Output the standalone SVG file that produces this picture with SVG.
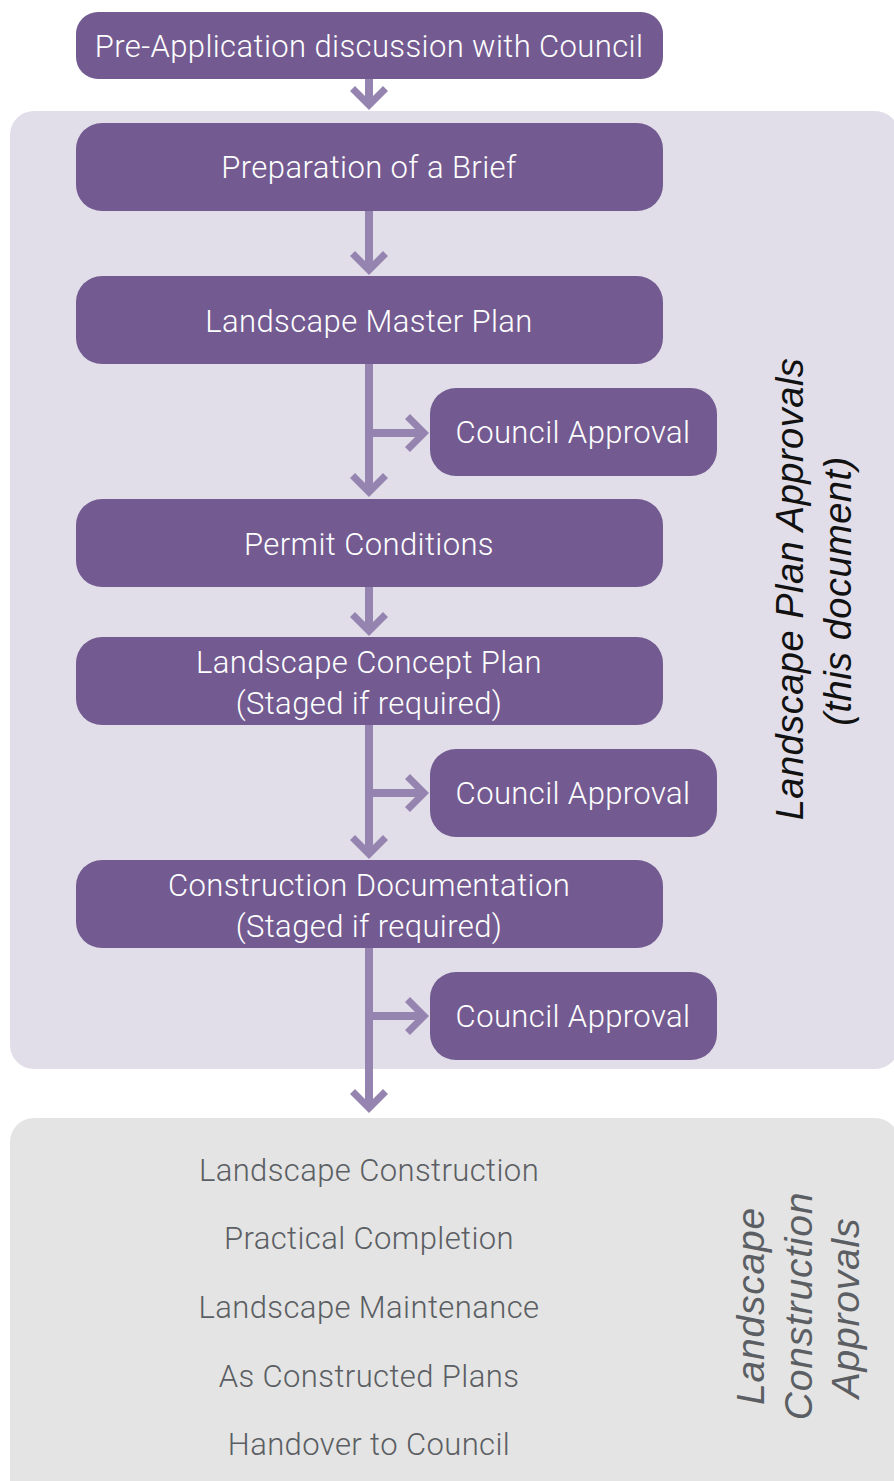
<svg xmlns="http://www.w3.org/2000/svg" width="894" height="1481" viewBox="0 0 894 1481">
<style>
.box{fill:#735b91}
.bt{font-family:Roboto,"Liberation Sans",sans-serif;font-weight:300;font-size:31px;letter-spacing:0.4px;fill:#ffffff;text-anchor:middle}
.gt{font-family:Roboto,"Liberation Sans",sans-serif;font-weight:300;font-size:31px;letter-spacing:0.4px;fill:#5b5e63;text-anchor:middle}
.line{stroke:#9584b0;stroke-width:8;fill:none}
.rt{font-family:"Liberation Sans",Arial,sans-serif;font-style:italic;font-size:38px;letter-spacing:0.5px;text-anchor:middle}
.rb{font-family:"Liberation Sans",Arial,sans-serif;font-style:italic;font-size:39px;letter-spacing:0.8px;text-anchor:middle;fill:#5b5e63}
</style>
<defs>
<path id="chev" d="M0,0 L-19,-19 L-14,-24 L0,-10 L14,-24 L19,-19 Z" fill="#9584b0"/>
</defs>
<rect x="0" y="0" width="894" height="1481" fill="#ffffff"/>
<g id="panel-plan"><rect x="10" y="111" width="889" height="958" rx="24" fill="#e1dee9"/>
<text class="rt" fill="#111111" transform="translate(803,589) rotate(-90)">Landscape Plan Approvals</text>
<text class="rt" fill="#111111" transform="translate(851,591) rotate(-90)">(this document)</text></g>
<g id="panel-construction"><rect x="10" y="1118" width="889" height="400" rx="24" fill="#e4e4e4"/>
<text class="rb" transform="translate(764,1306) rotate(-90)">Landscape</text>
<text class="rb" transform="translate(812,1306) rotate(-90)">Construction</text>
<text class="rb" transform="translate(859,1308) rotate(-90)">Approvals</text>
<text class="gt" x="369" y="1181">Landscape Construction</text>
<text class="gt" x="369" y="1249">Practical Completion</text>
<text class="gt" x="369" y="1318">Landscape Maintenance</text>
<text class="gt" x="369" y="1387">As Constructed Plans</text>
<text class="gt" x="369" y="1455">Handover to Council</text></g>
<g id="connectors">
<line class="line" x1="369" y1="79" x2="369" y2="104"/><use href="#chev" x="369" y="110"/>
<line class="line" x1="369" y1="211" x2="369" y2="268"/><use href="#chev" x="369" y="275"/>
<line class="line" x1="369" y1="364" x2="369" y2="490"/><use href="#chev" x="369" y="497"/>
<line class="line" x1="369" y1="433" x2="422" y2="433"/><use href="#chev" transform="translate(429,433) rotate(-90)"/>
<line class="line" x1="369" y1="587" x2="369" y2="629"/><use href="#chev" x="369" y="636"/>
<line class="line" x1="369" y1="725" x2="369" y2="852"/><use href="#chev" x="369" y="859"/>
<line class="line" x1="369" y1="793" x2="422" y2="793"/><use href="#chev" transform="translate(429,793) rotate(-90)"/>
<line class="line" x1="369" y1="948" x2="369" y2="1106"/><use href="#chev" x="369" y="1113"/>
<line class="line" x1="369" y1="1016" x2="422" y2="1016"/><use href="#chev" transform="translate(429,1016) rotate(-90)"/>
</g>
<g id="n-preapp"><rect class="box" x="76" y="12" width="587" height="67" rx="22"/><text class="bt" x="369" y="57">Pre-Application discussion with Council</text></g>
<g id="n-brief"><rect class="box" x="76" y="123" width="587" height="88" rx="26"/><text class="bt" x="369" y="178">Preparation of a Brief</text></g>
<g id="n-master"><rect class="box" x="76" y="276" width="587" height="88" rx="26"/><text class="bt" x="369" y="332">Landscape Master Plan</text></g>
<g id="n-approval1"><rect class="box" x="430" y="388" width="287" height="88" rx="26"/><text class="bt" x="573" y="443">Council Approval</text></g>
<g id="n-permit"><rect class="box" x="76" y="499" width="587" height="88" rx="26"/><text class="bt" x="369" y="555">Permit Conditions</text></g>
<g id="n-concept"><rect class="box" x="76" y="637" width="587" height="88" rx="26"/><text class="bt" x="369" y="673">Landscape Concept Plan</text><text class="bt" x="369" y="714">(Staged if required)</text></g>
<g id="n-approval2"><rect class="box" x="430" y="749" width="287" height="88" rx="26"/><text class="bt" x="573" y="804">Council Approval</text></g>
<g id="n-docs"><rect class="box" x="76" y="860" width="587" height="88" rx="26"/><text class="bt" x="369" y="896">Construction Documentation</text><text class="bt" x="369" y="937">(Staged if required)</text></g>
<g id="n-approval3"><rect class="box" x="430" y="972" width="287" height="88" rx="26"/><text class="bt" x="573" y="1027">Council Approval</text></g>
</svg>
